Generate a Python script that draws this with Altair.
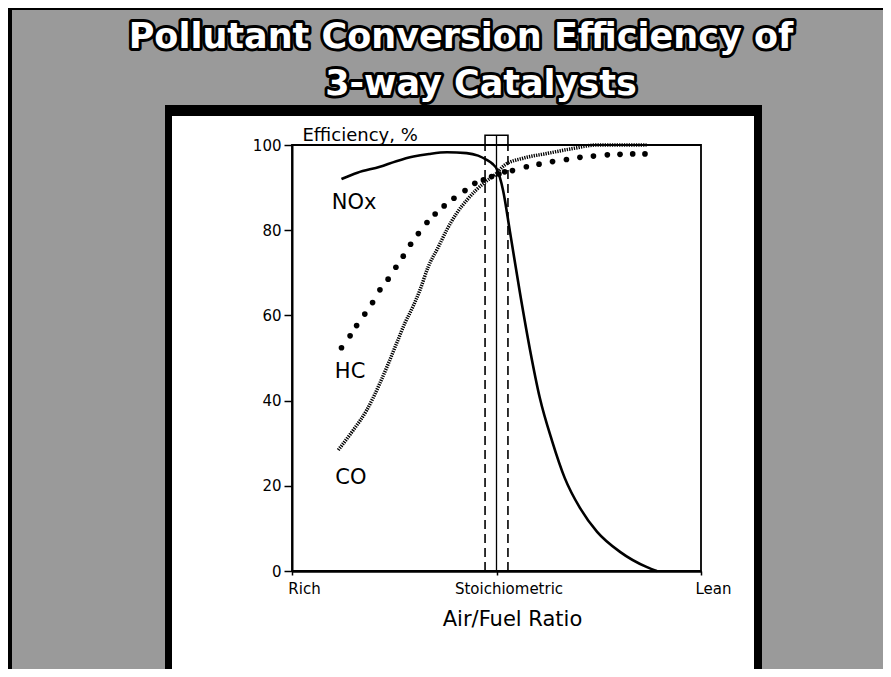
import altair as alt
import pandas as pd

# ---------------- data ----------------
title_lines = ["Pollutant Conversion Efficiency of", "3-way Catalysts"]

x_ticks = [0, 50, 100]
x_tick_labels = ["Rich", "Stoichiometric", "Lean"]
y_ticks = [0, 20, 40, 60, 80, 100]
x_domain = [0, 100]
y_domain = [0, 100]

stoich_x = [50.0]
window_x = [47.2, 52.8]
bracket_top = 102.3

nox_x = [12.1, 16.0, 21.5, 25.5, 29.7, 33.5, 37.9, 42.7, 45.5, 47.6, 49.0, 50.1,
         51.6, 53.3, 55.7, 58.2, 60.6, 63.6, 66.7, 70.4, 74.6, 80.2, 86.8, 89.2]
nox_y = [92.0, 93.5, 94.9, 96.2, 97.3, 97.9, 98.3, 98.1, 97.5, 96.5, 95.6, 94.3,
         89.4, 79.6, 65.5, 51.9, 40.6, 30.5, 21.8, 14.8, 9.2, 4.5, 0.9, 0.0]

hc_x = [12.1, 14.2, 15.8, 17.8, 19.7, 21.5, 23.5, 25.4, 27.2, 29.0, 30.9, 33.0,
        35.0, 37.2, 39.6, 42.3, 44.7, 46.8, 48.8, 50.6, 52.0, 53.9, 57.3, 60.4,
        63.7, 67.1, 70.4, 73.7, 77.1, 80.2, 83.3, 86.3]
hc_y = [52.4, 55.2, 57.6, 60.3, 63.0, 66.0, 68.5, 71.3, 73.9, 76.7, 79.2, 81.8,
        83.8, 85.7, 87.5, 89.3, 91.0, 91.8, 92.6, 93.2, 93.7, 94.0, 94.9, 95.5,
        96.1, 96.6, 97.1, 97.4, 97.7, 97.8, 97.9, 97.9]

co_x = [11.3, 15.0, 18.3, 21.5, 23.6, 25.6, 27.6, 29.3, 31.3, 33.3, 35.8, 37.8,
        40.2, 42.7, 45.1, 47.6, 49.6, 52.0, 56.5, 62.3, 68.8, 74.5, 80.0, 86.7]
co_y = [28.4, 33.1, 37.8, 44.1, 48.8, 53.5, 58.2, 61.5, 66.0, 71.4, 76.1, 80.0,
        83.9, 87.0, 89.5, 91.6, 93.0, 95.3, 96.9, 98.0, 99.2, 100.0, 100.0, 100.0]

label_names = ["NOx", "HC", "CO"]
label_x = [15.2, 14.2, 14.4]
label_y = [86.5, 46.6, 21.9]

# ---------------- styling ----------------
FONT = "DejaVu Sans"
PLOT_W, PLOT_H = 409, 426

label_expr = " : ".join(
    f"datum.value == {v} ? '{t}'" for v, t in zip(x_ticks[:-1], x_tick_labels[:-1])
) + f" : '{x_tick_labels[-1]}'"

x_axis = alt.Axis(
    values=x_ticks, labelExpr=label_expr, labelOffset=12, labelFlush=False,
    labelOverlap=False, labelFontSize=15, labelFont=FONT, labelColor="black",
    labelPadding=6, tickSize=4, tickWidth=1.5, tickColor="black",
    domainColor="black", domainWidth=2.5, grid=False,
    title="Air/Fuel Ratio", titleFont=FONT, titleFontSize=21,
    titleFontWeight="normal", titleColor="black", titleX=220, titleY=54,
    titleBaseline="alphabetic", titleAlign="center", zindex=1,
)
y_axis = alt.Axis(
    values=y_ticks, labelFontSize=15, labelFont=FONT, labelColor="black",
    labelPadding=3, tickSize=8, tickWidth=1.5, tickColor="black",
    domainColor="black", domainWidth=2, grid=False,
    title="Efficiency, %", titleFont=FONT, titleFontSize=18,
    titleFontWeight="normal", titleColor="black", titleAngle=0,
    titleAlign="left", titleX=10, titleY=-5, titleBaseline="alphabetic",
    zindex=1,
)

xs = alt.Scale(domain=x_domain, nice=False, zero=False)
ys = alt.Scale(domain=y_domain, nice=False, zero=False)


def X(field):
    return alt.X(f"{field}:Q", scale=xs, axis=x_axis)


def Y(field):
    return alt.Y(f"{field}:Q", scale=ys, axis=y_axis)


one = pd.DataFrame({"a": [0]})

# ---------------- decorative panel ----------------
layers = []
layers.append(alt.Chart(one).mark_rect(color="black").encode(
    x=alt.value(-284), x2=alt.value(-280), y=alt.value(-137), y2=alt.value(524)))
layers.append(alt.Chart(one).mark_rect(color="black").encode(
    x=alt.value(-284), x2=alt.value(591), y=alt.value(-137), y2=alt.value(-135)))
layers.append(alt.Chart(one).mark_rect(color="black").encode(
    x=alt.value(-127), x2=alt.value(470), y=alt.value(-40), y2=alt.value(540)))
layers.append(alt.Chart(one).mark_rect(color="white").encode(
    x=alt.value(-120), x2=alt.value(462), y=alt.value(-29), y2=alt.value(540)))

title_pos = [(169, -97), (189, -50)]
for line, (px, py) in zip(title_lines, title_pos):
    df = pd.DataFrame({"t": [line]})
    layers.append(alt.Chart(df).mark_text(
        font=FONT, fontSize=35, fontWeight="bold", fill="black", stroke="black",
        strokeWidth=6, strokeJoin="round", align="center", baseline="alphabetic",
    ).encode(x=alt.value(px), y=alt.value(py), text="t:N"))
    layers.append(alt.Chart(df).mark_text(
        font=FONT, fontSize=35, fontWeight="bold", fill="white",
        align="center", baseline="alphabetic",
    ).encode(x=alt.value(px), y=alt.value(py), text="t:N"))

# ---------------- chart marks ----------------
nox_df = pd.DataFrame({"x": nox_x, "y": nox_y})
hc_df = pd.DataFrame({"x": hc_x, "y": hc_y})
co_df = pd.DataFrame({"x": co_x, "y": co_y})
lab_df = pd.DataFrame({"x": label_x, "y": label_y, "t": label_names})

win_df = pd.DataFrame({"x": window_x, "y": [y_domain[0]] * 2, "y2": [y_domain[1]] * 2})
sto_df = pd.DataFrame({"x": stoich_x, "y": [y_domain[0]], "y2": [bracket_top]})
br_df = pd.DataFrame({
    "x": [window_x[0], window_x[0], window_x[1], window_x[1]],
    "y": [y_domain[1], bracket_top, bracket_top, y_domain[1]],
    "i": [0, 1, 2, 3],
})
frame_df = pd.DataFrame({"x": [x_domain[0]], "x2": [x_domain[1]],
                         "y": [y_domain[0]], "y2": [y_domain[1]]})

layers.append(alt.Chart(frame_df).mark_rect(
    filled=False, stroke="black", strokeWidth=1.8).encode(
    x=X("x"), x2="x2:Q", y=Y("y"), y2="y2:Q"))

layers.append(alt.Chart(win_df).mark_rule(
    color="black", strokeWidth=1.6, strokeDash=[9, 5]).encode(
    x=X("x"), y=Y("y"), y2="y2:Q"))
layers.append(alt.Chart(sto_df).mark_rule(color="black", strokeWidth=1.3).encode(
    x=X("x"), y=Y("y"), y2="y2:Q"))
layers.append(alt.Chart(br_df).mark_line(color="black", strokeWidth=1.6).encode(
    x=X("x"), y=Y("y"), order="i:Q"))

layers.append(alt.Chart(co_df).mark_line(
    color="black", strokeWidth=3.5, strokeDash=[1.3, 1.1], interpolate="monotone").encode(
    x=X("x"), y=Y("y")))
layers.append(alt.Chart(hc_df).mark_circle(color="black", size=32, opacity=1).encode(
    x=X("x"), y=Y("y")))
layers.append(alt.Chart(nox_df).mark_line(
    color="black", strokeWidth=2.6, interpolate="monotone").encode(
    x=X("x"), y=Y("y")))

layers.append(alt.Chart(lab_df).mark_text(
    font=FONT, fontSize=21, color="black", align="center", baseline="middle").encode(
    x=X("x"), y=Y("y"), text="t:N"))

chart = alt.layer(*layers).properties(
    width=PLOT_W, height=PLOT_H,
    padding={"left": 284, "top": 137, "right": 182, "bottom": 98},
    autosize=alt.AutoSizeParams(type="none"),
).configure(background="#9a9a9a", font=FONT).configure_view(stroke=None)

chart.save("out.html", embed_options={"renderer": "svg", "actions": False})
